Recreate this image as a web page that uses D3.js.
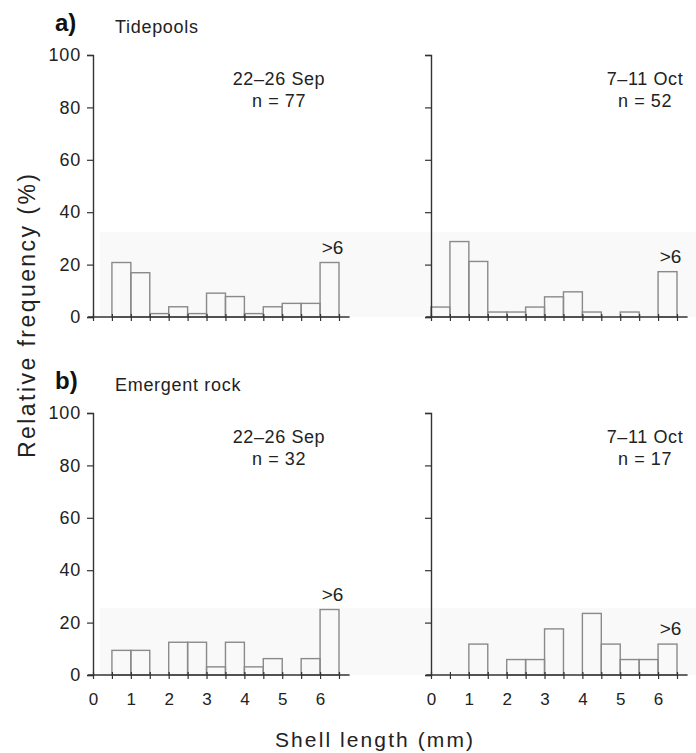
<!DOCTYPE html>
<html>
<head>
<meta charset="utf-8">
<script src="https://cdn.jsdelivr.net/npm/d3@7"></script>
<style>
  html, body { margin: 0; padding: 0; background: #fff; }
  svg { display: block; }
  text { font-family: "Liberation Sans", Arial, sans-serif; fill: #222; }
</style>
</head>
<body>
<svg id="chart" width="696" height="753"></svg>
<script>
// ---- data ----
const binStarts = [0, 0.5, 1, 1.5, 2, 2.5, 3, 3.5, 4, 4.5, 5, 5.5, 6];
const binWidth = 0.5;
const tidepoolsSep = [0, 20.8, 16.9, 1.3, 3.9, 1.3, 9.1, 7.8, 1.3, 3.9, 5.2, 5.2, 20.8];
const tidepoolsOct = [3.8, 28.8, 21.2, 1.9, 1.9, 3.8, 7.7, 9.6, 1.9, 0, 1.9, 0, 17.3];
const rockSep = [0, 9.4, 9.4, 0, 12.5, 12.5, 3.1, 12.5, 3.1, 6.25, 0, 6.25, 25];
const rockOct = [0, 0, 11.8, 0, 5.9, 5.9, 17.6, 0, 23.5, 11.8, 5.9, 5.9, 11.8];
const yTicks = [0, 20, 40, 60, 80, 100];
const xTicks = [0, 0.5, 1, 1.5, 2, 2.5, 3, 3.5, 4, 4.5, 5, 5.5, 6, 6.5];
const xLabels = [0, 1, 2, 3, 4, 5, 6];
const periods = ["22\u201326 Sep", "7\u201311 Oct"];
const sampleSizes = [[77, 52], [32, 17]];
const habitats = ["Tidepools", "Emergent rock"];
const panelLetters = ["a)", "b)"];
const lastBinLabel = ">6";

const svg = d3.select("#chart");

const xScales = [
  d3.scaleLinear().domain([0, 6.5]).range([93, 339]),
  d3.scaleLinear().domain([0, 6.5]).range([431, 677])
];
const yScales = [
  d3.scaleLinear().domain([0, 100]).range([317, 55]),
  d3.scaleLinear().domain([0, 100]).range([675, 413])
];
const bandTops = [232, 608];
const series = [[tidepoolsSep, tidepoolsOct], [rockSep, rockOct]];

// faint scan band
for (let r = 0; r < 2; r++) {
  const y = yScales[r];
  svg.append("rect")
    .attr("x", 100).attr("y", bandTops[r])
    .attr("width", 596).attr("height", y(0) - bandTops[r])
    .attr("fill", "#f9f9f9");
}

for (let r = 0; r < 2; r++) {
  const y = yScales[r];
  // row title
  svg.append("text")
    .attr("x", 55).attr("y", y(100) - 24)
    .attr("font-size", 24).attr("font-weight", "bold")
    .style("fill", "#111")
    .text(panelLetters[r]);
  svg.append("text")
    .attr("x", 115).attr("y", y(100) - 22)
    .attr("font-size", 18).attr("letter-spacing", 0.7)
    .text(habitats[r]);

  for (let c = 0; c < 2; c++) {
    const x = xScales[c];
    const vals = series[r][c];
    const g = svg.append("g");

    // bars
    g.selectAll("rect.bar")
      .data(binStarts.map((b, i) => ({ b, v: vals[i] })).filter(d => d.v > 0))
      .join("rect")
      .attr("class", "bar")
      .attr("x", d => x(d.b))
      .attr("y", d => y(d.v))
      .attr("width", d => x(d.b + binWidth) - x(d.b))
      .attr("height", d => y(0) - y(d.v))
      .attr("fill", "none")
      .attr("stroke", "#8a8a8a")
      .attr("stroke-width", 1.4);

    // y axis
    const yAxis = d3.axisLeft(y).tickValues(yTicks).tickSize(6).tickPadding(6)
      .tickFormat(c === 0 ? d3.format("d") : () => "");
    const ya = g.append("g").attr("transform", `translate(${x(0)},0)`).call(yAxis);
    ya.select(".domain").attr("stroke", "#333").attr("stroke-width", 1.4);
    ya.selectAll(".tick line").attr("stroke", "#333").attr("stroke-width", 1.2);
    ya.selectAll(".tick text").attr("font-size", 18).attr("letter-spacing", 0.8)
      .style("font-family", "'Liberation Sans', Arial, sans-serif").style("fill", "#222");

    // x axis
    g.append("line")
      .attr("x1", x(-0.13)).attr("x2", x(6.78))
      .attr("y1", y(0)).attr("y2", y(0))
      .attr("stroke", "#333").attr("stroke-width", 1.4);
    const xAxis = d3.axisBottom(x).tickValues(xTicks).tickSize(4).tickPadding(14)
      .tickFormat(d => (r === 1 && xLabels.includes(d)) ? d3.format("d")(d) : "");
    const xa = g.append("g").attr("transform", `translate(0,${y(0)})`).call(xAxis);
    xa.select(".domain").remove();
    xa.selectAll(".tick line").attr("y1", -3).attr("y2", 4)
      .attr("stroke", "#333").attr("stroke-width", 1.2);
    xa.selectAll(".tick text").attr("font-size", 17)
      .style("font-family", "'Liberation Sans', Arial, sans-serif").style("fill", "#222");

    // annotations
    const cx = c === 0 ? 279 : 645;
    g.append("text").attr("x", cx).attr("y", y(100) + 30)
      .attr("text-anchor", "middle").attr("font-size", 18).attr("letter-spacing", 0.6)
      .text(periods[c]);
    g.append("text").attr("x", cx).attr("y", y(100) + 52)
      .attr("text-anchor", "middle").attr("font-size", 18).attr("letter-spacing", 0.6)
      .text("n = " + sampleSizes[r][c]);

    // >6 label
    const last = vals[vals.length - 1];
    g.append("text")
      .attr("x", x(6.25) + 3).attr("y", y(last) - 9)
      .attr("text-anchor", "middle").attr("font-size", 19)
      .text(lastBinLabel);
  }
}

// axis titles
svg.append("text")
  .attr("transform", "translate(35,316) rotate(-90)")
  .attr("text-anchor", "middle").attr("font-size", 23)
  .attr("textLength", 284).attr("lengthAdjust", "spacing")
  .text("Relative frequency (%)");
svg.append("text")
  .attr("x", 374).attr("y", 747)
  .attr("text-anchor", "middle").attr("font-size", 21)
  .attr("textLength", 198).attr("lengthAdjust", "spacing")
  .text("Shell length (mm)");
</script>
</body>
</html>
